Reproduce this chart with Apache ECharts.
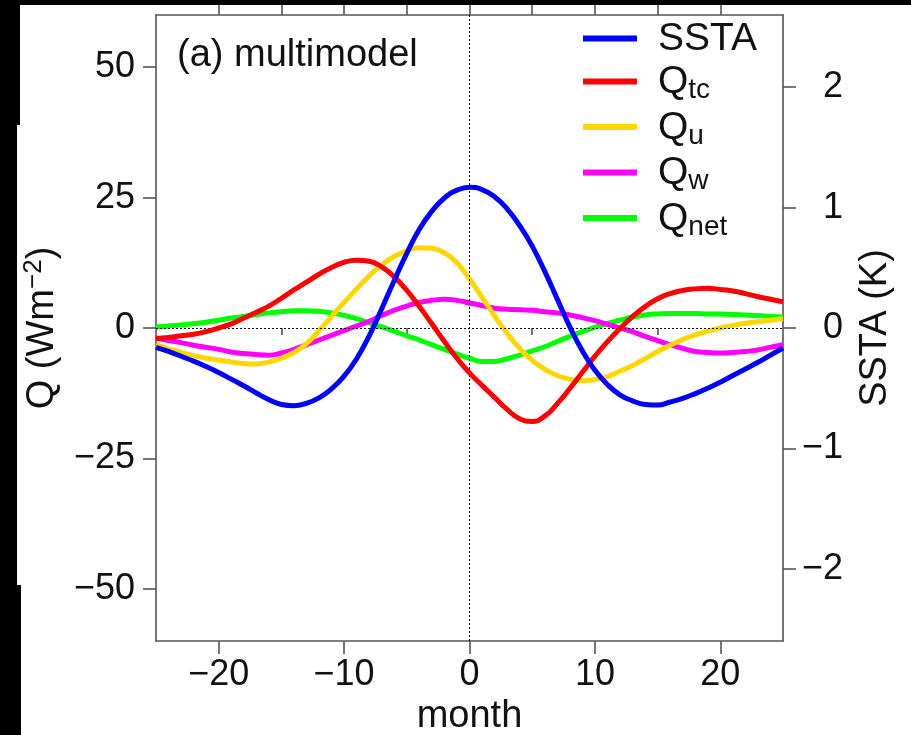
<!DOCTYPE html>
<html lang="en">
<head>
<meta charset="UTF-8">
<title>multimodel</title>
<script src="https://cdn.jsdelivr.net/npm/echarts@6/dist/echarts.min.js"></script>
<style>
  html, body { margin: 0; padding: 0; background: #fff; }
  #main { width: 911px; height: 735px; }
</style>
</head>
<body>
<div id="main"></div>
<script>
// lag in months
var months = [-25, -24, -23, -22, -21, -20, -19, -18, -17, -16, -15, -14, -13, -12, -11, -10, -9, -8, -7, -6, -5, -4, -3, -2, -1,
  0, 1, 2, 3, 4, 5, 6, 7, 8, 9, 10, 11, 12, 13, 14, 15, 16, 17, 18, 19, 20, 21, 22, 23, 24, 25];

// SSTA (K), right axis
var ssta = [-0.16, -0.195, -0.235, -0.275, -0.32, -0.37, -0.425, -0.48, -0.54, -0.595, -0.635, -0.645, -0.625, -0.58, -0.505, -0.40, -0.255, -0.065, 0.16, 0.395, 0.62, 0.82, 0.97, 1.08, 1.145,
  1.17, 1.15, 1.09, 0.99, 0.85, 0.68, 0.47, 0.24, 0.01, -0.19, -0.35, -0.47, -0.555, -0.605, -0.635, -0.64, -0.615, -0.585, -0.545, -0.50, -0.45, -0.395, -0.34, -0.285, -0.225, -0.166];

// heat flux terms (W m-2), left axis
var qtc = [-2.0, -1.8, -1.5, -1.2, -0.7, 0.0, 0.8, 1.9, 3.0, 4.2, 5.7, 7.3, 8.8, 10.3, 11.6, 12.6, 13.0, 12.8, 11.7, 9.8, 7.2, 4.1, 0.8, -2.6, -5.8,
  -8.6, -11.0, -13.3, -15.6, -17.4, -17.9, -16.9, -14.5, -11.6, -8.5, -5.4, -2.6, -0.1, 2.2, 4.1, 5.6, 6.6, 7.2, 7.5, 7.6, 7.4, 7.1, 6.6, 6.0, 5.5, 5.0];
var qu = [-3.2, -4.0, -4.7, -5.3, -5.8, -6.2, -6.5, -6.8, -6.9, -6.5, -5.8, -4.7, -3.0, -0.5, 2.2, 4.9, 7.5, 10.0, 12.1, 13.7, 14.8, 15.4, 15.3, 14.4, 12.5,
  9.4, 5.9, 2.3, -1.0, -3.9, -6.2, -7.9, -9.1, -9.8, -10.1, -9.9, -9.3, -8.3, -7.2, -5.9, -4.5, -3.3, -2.2, -1.3, -0.6, 0.0, 0.5, 0.9, 1.2, 1.5, 1.8];
var qw = [-1.9, -2.4, -2.8, -3.3, -3.7, -4.1, -4.6, -4.9, -5.1, -5.2, -4.8, -4.1, -3.2, -2.3, -1.4, -0.5, 0.4, 1.3, 2.4, 3.4, 4.2, 4.9, 5.3, 5.5, 5.3,
  4.8, 4.3, 3.8, 3.6, 3.5, 3.4, 3.1, 2.9, 2.5, 2.0, 1.4, 0.7, 0.0, -0.7, -1.6, -2.4, -3.2, -3.9, -4.5, -4.7, -4.8, -4.7, -4.5, -4.2, -3.7, -3.2];
var qnet = [0.2, 0.4, 0.6, 0.8, 1.1, 1.5, 1.9, 2.2, 2.6, 2.9, 3.1, 3.3, 3.3, 3.2, 2.9, 2.4, 1.8, 1.0, 0.2, -0.6, -1.5, -2.3, -3.2, -4.1, -5.0,
  -5.8, -6.4, -6.4, -5.9, -5.2, -4.4, -3.6, -2.6, -1.6, -0.7, 0.1, 0.9, 1.5, 2.1, 2.5, 2.7, 2.8, 2.8, 2.8, 2.7, 2.7, 2.6, 2.5, 2.4, 2.2, 2.1];

var qTicks = [-50, -25, 0, 25, 50];
var sstaTicks = [-2, -1, 0, 1, 2];
var monthTicks = [-20, -10, 0, 10, 20];
var monthMinor = [-15, -5, 5, 15];
var monthTop = [-20, -15, -10, -5, 0, 5, 10, 15, 20];

var font = "'Liberation Sans', Arial, Helvetica, sans-serif";
var axisColor = '#555';

function pairs(ys) {
  var out = [];
  for (var i = 0; i < months.length; i++) out.push([months[i], ys[i]]);
  return out;
}
function minus(v) {
  return v < 0 ? '\u2212' + Math.abs(v) : String(v);
}

var legendText = {
  'SSTA': '{q|SSTA}',
  'Qtc': '{q|Q}{s|tc}',
  'Qu': '{q|Q}{s|u}',
  'Qw': '{q|Q}{s|w}',
  'Qnet': '{q|Q}{s|net}'
};

var myChart = echarts.init(document.getElementById('main'));

function line(name, color, data, yIdx, z) {
  return {
    name: name,
    type: 'line',
    xAxisIndex: 0,
    yAxisIndex: yIdx,
    data: pairs(data),
    smooth: 0.5,
    symbol: 'none',
    z: z,
    lineStyle: { color: color, width: 5 },
    itemStyle: { color: color },
    emphasis: { disabled: true }
  };
}

var series = [
  line('Qnet', '#00ff00', qnet, 0, 2),
  line('Qw', '#ff00ff', qw, 0, 3),
  line('Qu', '#ffd700', qu, 0, 4),
  line('Qtc', '#ff0000', qtc, 0, 5),
  line('SSTA', '#0000ff', ssta, 1, 6)
];
// dotted zero lines
series[0].markLine = {
  silent: true,
  symbol: 'none',
  label: { show: false },
  lineStyle: { color: '#000', width: 1, type: [2, 2] },
  data: [{ xAxis: 0 }, { yAxis: 0 }]
};

myChart.setOption({
  animation: false,
  backgroundColor: '#fff',
  title: {
    text: '(a) multimodel',
    left: 177,
    top: 37,
    padding: 0,
    textStyle: { fontFamily: font, fontSize: 38, fontWeight: 'normal', color: '#111' }
  },
  legend: {
    orient: 'vertical',
    left: 565,
    top: 17,
    padding: [3, 14, 6, 18],
    backgroundColor: '#fff',
    itemGap: 4,
    itemWidth: 54,
    itemHeight: 6,
    icon: 'rect',
    selectedMode: false,
    data: ['SSTA', 'Qtc', 'Qu', 'Qw', 'Qnet'],
    formatter: function (n) { return legendText[n]; },
    textStyle: {
      padding: [2, 0, 0, 16],
      rich: {
        q: { fontFamily: font, fontSize: 39, lineHeight: 44, color: '#111' },
        s: { fontFamily: font, fontSize: 28, lineHeight: 20, verticalAlign: 'bottom', color: '#111' }
      }
    }
  },
  grid: { left: 156, right: 128, top: 15, bottom: 94, containLabel: false, outerBoundsMode: 'none' },
  xAxis: [
    {
      type: 'value', position: 'bottom', min: -25, max: 25,
      name: 'month', nameLocation: 'middle', nameGap: 56,
      nameTextStyle: { fontFamily: font, fontSize: 38, color: '#111' },
      axisLine: { show: true, onZero: false, lineStyle: { color: axisColor, width: 1.6 } },
      axisTick: { show: true, inside: false, length: 13, customValues: monthTicks, lineStyle: { color: axisColor, width: 1.6 } },
      axisLabel: { customValues: monthTicks, margin: 16, formatter: minus, fontFamily: font, fontSize: 36, color: '#111' },
      splitLine: { show: false }
    },
    {
      type: 'value', position: 'bottom', min: -25, max: 25,
      axisLine: { show: false },
      axisTick: { show: true, inside: false, length: 7, customValues: monthMinor, lineStyle: { color: axisColor, width: 1.6 } },
      axisLabel: { show: false },
      splitLine: { show: false }
    },
    {
      type: 'value', position: 'top', min: -25, max: 25,
      axisLine: { show: true, onZero: false, lineStyle: { color: axisColor, width: 1.6 } },
      axisTick: { show: true, inside: false, length: 10, customValues: monthTop, lineStyle: { color: axisColor, width: 1.6 } },
      axisLabel: { show: false },
      splitLine: { show: false }
    }
  ],
  yAxis: [
    {
      type: 'value', position: 'left', min: -60, max: 60,
      name: '{a|Q (Wm}{b|\u22122}{a|)}', nameLocation: 'middle', nameGap: 91,
      nameTextStyle: {
        rich: {
          a: { fontFamily: font, fontSize: 38, lineHeight: 44, color: '#111' },
          b: { fontFamily: font, fontSize: 26, lineHeight: 26, verticalAlign: 'top', color: '#111' }
        }
      },
      axisLine: { show: true, onZero: false, lineStyle: { color: axisColor, width: 1.6 } },
      axisTick: { show: true, inside: false, length: 13, customValues: qTicks, lineStyle: { color: axisColor, width: 1.6 } },
      axisLabel: { customValues: qTicks, margin: 21, formatter: minus, fontFamily: font, fontSize: 36, color: '#111' },
      splitLine: { show: false }
    },
    {
      type: 'value', position: 'right', min: -2.6, max: 2.6,
      name: 'SSTA (K)', nameLocation: 'middle', nameGap: 66,
      nameTextStyle: { fontFamily: font, fontSize: 38, lineHeight: 44, color: '#111' },
      axisLine: { show: true, onZero: false, lineStyle: { color: axisColor, width: 1.6 } },
      axisTick: { show: true, inside: false, length: 13, customValues: sstaTicks, lineStyle: { color: axisColor, width: 1.6 } },
      axisLabel: { customValues: sstaTicks, margin: 60, align: 'right', formatter: minus, fontFamily: font, fontSize: 36, color: '#111' },
      splitLine: { show: false }
    }
  ],
  graphic: [
    { type: 'rect', left: 0, top: 0, z: 100, shape: { width: 911, height: 5 }, style: { fill: '#000' } },
    { type: 'rect', left: 0, top: 0, z: 100, shape: { width: 20, height: 125 }, style: { fill: '#000' } },
    { type: 'rect', left: 0, top: 125, z: 100, shape: { width: 17, height: 460 }, style: { fill: '#000' } },
    { type: 'rect', left: 0, top: 585, z: 100, shape: { width: 21, height: 150 }, style: { fill: '#000' } }
  ],
  series: series
});
</script>
</body>
</html>
